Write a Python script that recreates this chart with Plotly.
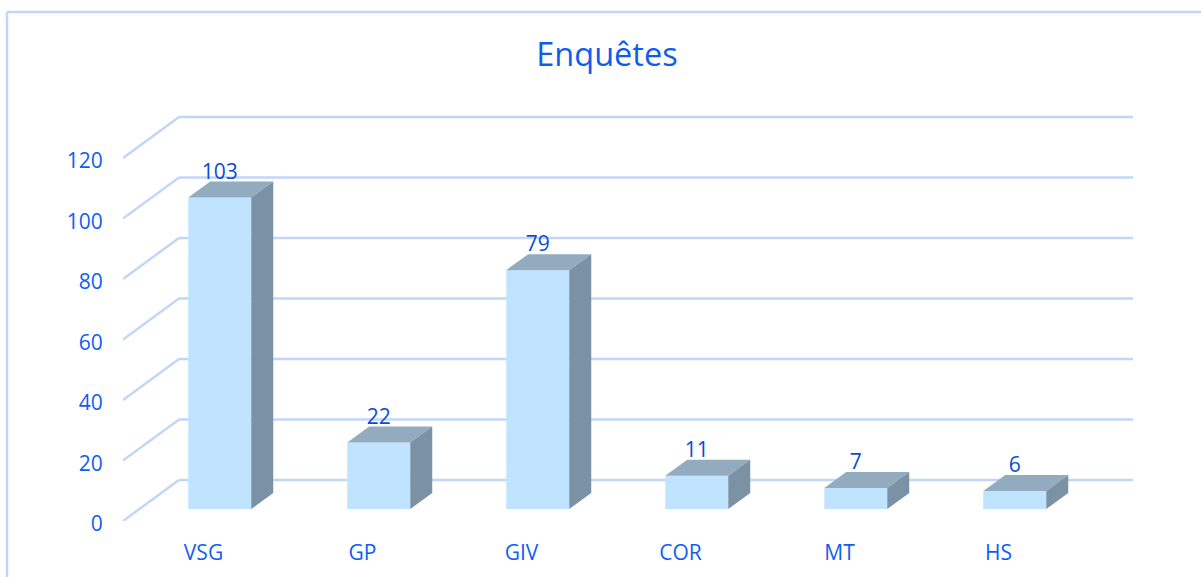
import plotly.graph_objects as go

# --- data ---
title_text = "Enquêtes"
categories = ["VSG", "GP", "GIV", "COR", "MT", "HS"]
values = [103, 22, 79, 11, 7, 6]
y_ticks = [0, 20, 40, 60, 80, 100, 120]

# --- styles ---
FONT = "Open Sans, Noto Sans, sans-serif"
TICK_COLOR = "#0F5EF2"
LABEL_COLOR = "#0A4DD2"
GRID_COLOR = "#C2D6F8"
FRONT = "#C0E4FF"
TOP = "#92ABBE"
SIDE = "#7B92A4"

# --- pseudo-3D geometry, in axis units ---
W, H = 1201, 577
L, R, T, B = 123, 68, 107, 56
PX_X = 159.0                     # px per category
PX_Y = 3.025                     # px per value unit
WALL_DX = 56 / PX_X              # depth of the wall
WALL_DY = 41 / PX_Y
BAR_W = 63 / PX_X
BAR_D0 = 0.29                    # bar front, fraction of wall depth
BAR_DX = 22 / PX_X               # bar depth
BAR_DY = 16 / PX_Y
LABEL_LIFT = 24 / PX_Y
x_min = -0.5
x_max = (W - L - R) / PX_X + x_min
y_max = (H - T - B) / PX_Y

shift_x = BAR_D0 * WALL_DX + 1 / PX_X
shift_y = BAR_D0 * WALL_DY

# gridlines: side wall + back wall
shapes = []
for t in y_ticks:
    line = dict(color=GRID_COLOR, width=2.5)
    shapes.append(dict(type="line", xref="x", yref="y", layer="below", line=line,
                       x0=x_min, y0=t, x1=x_min + WALL_DX, y1=t + WALL_DY))
    shapes.append(dict(type="line", xref="x", yref="y", layer="below", line=line,
                       x0=x_min + WALL_DX, y0=t + WALL_DY, x1=x_max, y1=t + WALL_DY))

# outer chart frame (open to the right and bottom of the window)
fx = lambda px: (px - L) / (W - L - R)
fy = lambda py: 1 - (py - T) / (H - T - B)
frame = dict(color="#C2D6FB", width=2.5)
shapes.append(dict(type="line", xref="paper", yref="paper", line=frame,
                   x0=fx(7), x1=fx(1201), y0=fy(12), y1=fy(12)))
shapes.append(dict(type="line", xref="paper", yref="paper", line=frame,
                   x0=fx(7), x1=fx(7), y0=fy(12), y1=fy(577)))

fig = go.Figure()

centers = [i + shift_x for i in range(len(categories))]

fig.add_trace(go.Bar(
    x=centers, y=values, base=[shift_y] * len(values), width=BAR_W,
    marker=dict(color=FRONT, line=dict(width=0)), hoverinfo="skip", showlegend=False,
))

for c, v in zip(centers, values):
    xl, xr = c - BAR_W / 2, c + BAR_W / 2
    y0, y1 = shift_y, shift_y + v
    fig.add_trace(go.Scatter(
        x=[xl, xr, xr + BAR_DX, xl + BAR_DX, xl],
        y=[y1, y1, y1 + BAR_DY, y1 + BAR_DY, y1],
        mode="lines", fill="toself", fillcolor=TOP, line=dict(width=0),
        hoverinfo="skip", showlegend=False,
    ))
    fig.add_trace(go.Scatter(
        x=[xr, xr + BAR_DX, xr + BAR_DX, xr, xr],
        y=[y0, y0 + BAR_DY, y1 + BAR_DY, y1, y0],
        mode="lines", fill="toself", fillcolor=SIDE, line=dict(width=0),
        hoverinfo="skip", showlegend=False,
    ))

fig.add_trace(go.Scatter(
    x=centers, y=[shift_y + v + LABEL_LIFT for v in values],
    mode="text", text=[str(v) for v in values], textposition="middle center",
    textfont=dict(family=FONT, size=21, color=LABEL_COLOR),
    hoverinfo="skip", showlegend=False, cliponaxis=False,
))

fig.update_layout(
    width=W, height=H, autosize=False,
    margin=dict(l=L, r=R, t=T, b=B, pad=0),
    paper_bgcolor="white", plot_bgcolor="white",
    showlegend=False, shapes=shapes,
    title=dict(text=title_text, x=607 / W, xanchor="center", y=1 - 55 / H, yanchor="middle",
               font=dict(family=FONT, size=32.5, color="#0F5CEB")),
    xaxis=dict(range=[x_min, x_max], tickmode="array", tickvals=list(range(len(categories))),
               ticktext=categories, showgrid=False, zeroline=False, showline=False,
               automargin=False, ticks="outside", ticklen=13, tickcolor="rgba(0,0,0,0)",
               ticklabelshift=1,
               tickfont=dict(family=FONT, size=21, color=TICK_COLOR)),
    yaxis=dict(range=[0, y_max], tickmode="array", tickvals=y_ticks, showgrid=False,
               zeroline=False, showline=False, automargin=False, ticks="outside", ticklen=15,
               tickcolor="rgba(0,0,0,0)", ticklabelshift=3,
               tickfont=dict(family=FONT, size=21, color=TICK_COLOR)),
)

fig.write_html("out.html", config=dict(displayModeBar=False),
               post_script="document.body.style.margin='0';document.documentElement.style.overflow='hidden';")
